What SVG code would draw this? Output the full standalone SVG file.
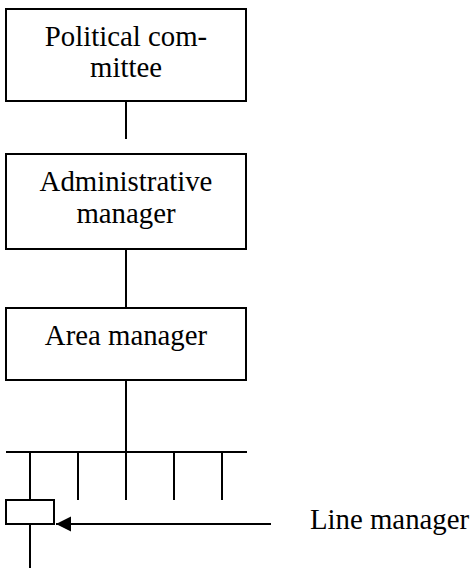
<svg xmlns="http://www.w3.org/2000/svg" width="473" height="569" viewBox="0 0 473 569">
<style>
.box{fill:#fff;stroke:#000;stroke-width:2}
.ln{stroke:#000;stroke-width:2;fill:none}
.t{font-family:'Liberation Serif',Tinos,'Times New Roman',Times,serif;font-size:28.8px;fill:#000}
.c{text-anchor:middle}
</style>
<defs>
<marker id="ah" markerWidth="16" markerHeight="16" refX="15" refY="8" orient="auto" markerUnits="userSpaceOnUse">
<path d="M0,0.5 L15,8 L0,15.5 Z" fill="#000"/>
</marker>
</defs>
<rect width="473" height="569" fill="#fff"/>
<g id="connectors">
<line class="ln" x1="126" y1="101" x2="126" y2="139"/>
<line class="ln" x1="126" y1="249" x2="126" y2="308"/>
<line class="ln" x1="126" y1="380" x2="126" y2="452"/>
<line class="ln" x1="6" y1="452" x2="247" y2="452"/>
<line class="ln" x1="30" y1="452" x2="30" y2="500"/>
<line class="ln" x1="78" y1="452" x2="78" y2="500"/>
<line class="ln" x1="126" y1="452" x2="126" y2="500"/>
<line class="ln" x1="174" y1="452" x2="174" y2="500"/>
<line class="ln" x1="222" y1="452" x2="222" y2="500"/>
<line class="ln" x1="30" y1="524" x2="30" y2="568"/>
<line class="ln" x1="271" y1="524" x2="56" y2="524" marker-end="url(#ah)"/>
</g>
<g id="political-committee">
<rect class="box" x="6" y="9" width="240" height="92"/>
<text class="t c" x="126" y="46">Political com-</text>
<text class="t c" x="126" y="77">mittee</text>
</g>
<g id="administrative-manager">
<rect class="box" x="6" y="154" width="240" height="95"/>
<text class="t c" x="126" y="191">Administrative</text>
<text class="t c" x="126" y="223">manager</text>
</g>
<g id="area-manager">
<rect class="box" x="6" y="308" width="240" height="72"/>
<text class="t c" x="126" y="345">Area manager</text>
</g>
<g id="line-manager-box">
<rect class="box" x="6" y="500" width="48" height="24"/>
</g>
<g id="line-manager-label">
<text class="t" x="310" y="529">Line manager</text>
</g>
</svg>
